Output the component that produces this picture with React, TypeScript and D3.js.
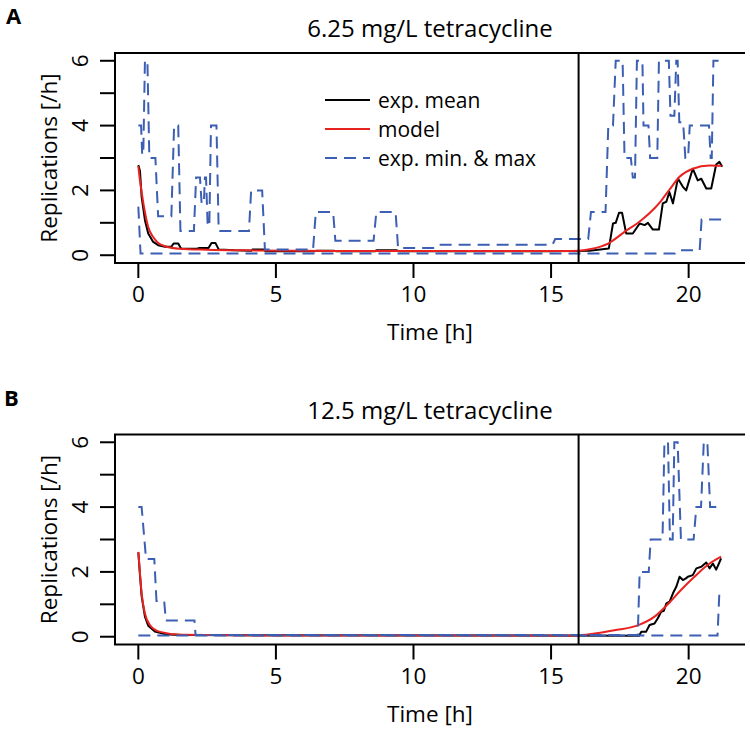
import React from 'react';
import * as d3 from 'd3';

type Pt = [number, number];

// ---------- data ----------
const tMin = 0;
const tMax = 21.2;
const yMin = 0;
const yMax = 6;
const xTicks = [0, 5, 10, 15, 20];
const yTicks = [0, 1, 2, 3, 4, 5, 6];
const yTickLabels = [0, 2, 4, 6];
const drugSwitchTime = 16;
const panelLetters = ['A', 'B'];
const panelTitles = ['6.25 mg/L tetracycline', '12.5 mg/L tetracycline'];
const legendLabels = ['exp. mean', 'model', 'exp. min. & max'];
const xLabel = 'Time [h]';
const yLabel = 'Replications [/h]';

const meanA: Pt[] = [
  [0, 2.78], [0.06, 2.6], [0.12, 1.8], [0.24, 1.08], [0.36, 0.67], [0.54, 0.41], [0.72, 0.31],
  [0.97, 0.26], [1.2, 0.26], [1.28, 0.36], [1.45, 0.36], [1.55, 0.21], [2.12, 0.2], [2.2, 0.22],
  [2.55, 0.22], [2.66, 0.38], [2.8, 0.38], [2.92, 0.18], [3.5, 0.15], [4.1, 0.14], [4.15, 0.18],
  [4.55, 0.18], [4.62, 0.12], [6.4, 0.12], [6.5, 0.14], [7.1, 0.14], [7.2, 0.12], [8.6, 0.12],
  [8.65, 0.15], [9.4, 0.15], [9.5, 0.12], [15.0, 0.12], [16.4, 0.14], [17.1, 0.21], [17.25, 0.98],
  [17.35, 1.0], [17.47, 1.31], [17.58, 1.31], [17.73, 0.67], [17.97, 0.67], [18.22, 0.98],
  [18.4, 0.93], [18.52, 1.0], [18.7, 0.79], [18.92, 0.79], [19.06, 1.6], [19.19, 1.65], [19.3, 1.95],
  [19.43, 1.6], [19.61, 2.37], [19.79, 2.11], [19.91, 2.0], [20.15, 2.67], [20.33, 2.31],
  [20.46, 2.36], [20.64, 2.06], [20.82, 2.06], [21.0, 2.8], [21.12, 2.88], [21.22, 2.73],
];

const modelA: Pt[] = [
  [0, 2.75], [0.06, 2.3], [0.12, 1.95], [0.24, 1.33], [0.36, 0.87], [0.54, 0.56], [0.72, 0.38],
  [1.0, 0.27], [1.5, 0.2], [2.5, 0.17], [4, 0.15], [8, 0.13], [15.5, 0.13], [16, 0.14], [16.5, 0.2],
  [17.07, 0.36], [17.67, 0.72], [18.28, 1.08], [18.76, 1.45], [19.0, 1.68], [19.3, 2.02],
  [19.67, 2.42], [20.15, 2.67], [20.76, 2.77], [21.2, 2.76],
];

const maxA: Pt[] = [
  [0, 4], [0.1, 4], [0.14, 3.1], [0.18, 3.1], [0.24, 6], [0.33, 6], [0.4, 3], [0.62, 3],
  [0.72, 1.2], [1.2, 1.2], [1.3, 4], [1.45, 4], [1.53, 0.75], [2.02, 0.75], [2.1, 2.4], [2.24, 2.4],
  [2.3, 1.6], [2.38, 1.6], [2.42, 2.4], [2.46, 2.4], [2.52, 0.9], [2.58, 0.9], [2.64, 4], [2.84, 4],
  [2.92, 0.75], [4.02, 0.75], [4.1, 2], [4.5, 2], [4.6, 0.18], [6.35, 0.18], [6.45, 1.33],
  [7.08, 1.33], [7.16, 0.45], [8.55, 0.45], [8.65, 1.33], [9.35, 1.33], [9.44, 0.22], [10.8, 0.22],
  [10.9, 0.32], [15.05, 0.32], [15.15, 0.5], [16.35, 0.5], [16.45, 1.33], [16.98, 1.33],
  [17.08, 4], [17.25, 4], [17.35, 6], [17.6, 6], [17.67, 3], [17.9, 3], [17.97, 2.4], [18.05, 2.4],
  [18.12, 6], [18.32, 6], [18.36, 4], [18.54, 4], [18.6, 3], [18.86, 3], [18.92, 6], [19.28, 6],
  [19.34, 4.3], [19.48, 4.3], [19.55, 6], [19.6, 6], [19.66, 4.1], [19.8, 4.1], [19.88, 3],
  [19.98, 3], [20.04, 4], [20.74, 4], [20.8, 3], [20.84, 3], [20.9, 6], [21.2, 6],
];

const minA: Pt[] = [
  [0, 1.5], [0.08, 0.05], [19.5, 0.05], [19.6, 0.15], [20.4, 0.15], [20.47, 1.1], [21.2, 1.1],
];

const meanB: Pt[] = [
  [0, 2.6], [0.06, 1.9], [0.12, 1.25], [0.24, 0.62], [0.36, 0.34], [0.6, 0.16], [0.97, 0.08],
  [1.5, 0.05], [18.2, 0.03], [18.28, 0.15], [18.45, 0.15], [18.58, 0.36], [18.76, 0.41],
  [18.88, 0.57], [19.0, 0.77], [19.1, 0.8], [19.19, 1.03], [19.31, 1.08], [19.43, 1.34],
  [19.55, 1.54], [19.67, 1.85], [19.79, 1.75], [19.9, 1.8], [19.97, 1.85], [20.15, 1.9],
  [20.28, 2.11], [20.46, 2.16], [20.64, 2.29], [20.76, 2.11], [20.88, 2.26], [21.0, 2.07],
  [21.1, 2.26], [21.18, 2.42],
];

const modelB: Pt[] = [
  [0, 2.62], [0.06, 1.95], [0.12, 1.34], [0.24, 0.72], [0.42, 0.36], [0.79, 0.15], [1.6, 0.06],
  [5, 0.04], [15.86, 0.04], [16.58, 0.1], [17.3, 0.2], [18.15, 0.35], [18.76, 0.62], [19.24, 1.0],
  [19.73, 1.45], [20.21, 1.85], [20.7, 2.22], [21.18, 2.47],
];

const maxB: Pt[] = [
  [0, 4], [0.12, 4], [0.28, 2.4], [0.58, 2.4], [0.66, 1.1], [0.94, 1.1], [1.0, 0.5], [2.04, 0.5],
  [2.08, 0.05], [18.15, 0.05], [18.22, 2.0], [18.55, 2.0], [18.62, 3.0], [19.05, 3.0], [19.12, 6],
  [19.25, 6], [19.32, 3], [19.42, 3], [19.48, 6], [19.6, 6], [19.72, 3], [20.18, 3], [20.28, 4],
  [20.45, 4], [20.55, 6], [20.68, 6], [20.78, 4], [21.2, 4],
];

const minB: Pt[] = [[0, 0.04], [21.05, 0.04], [21.12, 1.45]];

const panelSeries = [
  { mean: meanA, model: modelA, max: maxA, min: minA },
  { mean: meanB, model: modelB, max: maxB, min: minB },
];

// ---------- styling / layout ----------
const W = 750;
const H = 729;
const FONT = '"Open Sans", Lato, sans-serif';
const BLUE = '#3d5fb3';
const RED = '#e8231f';
const DASH = '12,7';
const plotLeft = 115;
const plotRight = 745;
const panelTops = [53, 434.5];
const plotHeight = 210;
const fsAxis = 22.5;
const fsTitle = 24;
const fsLegend = 21;

const pad = 0.04 * (tMax - tMin);
const x = d3.scaleLinear().domain([tMin - pad, tMax + pad]).range([plotLeft, plotRight]);

function Panel({ idx }: { idx: number }) {
  const top = panelTops[idx];
  const bottom = top + plotHeight;
  const ypad = 0.04 * (yMax - yMin);
  const y = d3.scaleLinear().domain([yMin - ypad, yMax + ypad]).range([bottom, top]);
  const s = panelSeries[idx];
  const lin = d3.line<Pt>().x(d => x(d[0])).y(d => y(d[1]));
  const smooth = d3.line<Pt>().x(d => x(d[0])).y(d => y(d[1])).curve(d3.curveMonotoneX);
  const midX = (plotLeft + plotRight) / 2;
  const midY = (top + bottom) / 2;
  return (
    <g>
      <text x={idx === 0 ? 6 : 4} y={top - 29} fontSize={22} fontWeight="bold" fontFamily={FONT}>
        {panelLetters[idx]}
      </text>
      <text x={midX} y={top - 16} fontSize={fsTitle} textAnchor="middle" fontFamily={FONT}>
        {panelTitles[idx]}
      </text>
      {/* data */}
      <path d={lin(s.mean) || ''} fill="none" stroke="#000" strokeWidth={2} strokeLinejoin="round" />
      <path d={smooth(s.model) || ''} fill="none" stroke={RED} strokeWidth={2} />
      <path d={lin(s.max) || ''} fill="none" stroke={BLUE} strokeWidth={2} strokeDasharray={DASH} />
      <path d={lin(s.min) || ''} fill="none" stroke={BLUE} strokeWidth={2} strokeDasharray={DASH} />
      {/* switch line */}
      <line x1={x(drugSwitchTime)} x2={x(drugSwitchTime)} y1={top} y2={bottom} stroke="#000" strokeWidth={2} />
      {/* box (left, top, bottom) */}
      <path d={`M${plotRight},${top}H${plotLeft}V${bottom}H${plotRight}`} fill="none" stroke="#000" strokeWidth={2} />
      {/* y axis */}
      {yTicks.map(v => (
        <line key={'yt' + v} x1={plotLeft} x2={plotLeft - 15} y1={y(v)} y2={y(v)} stroke="#000" strokeWidth={2} />
      ))}
      {yTickLabels.map(v => (
        <text key={'yl' + v} transform={`translate(${88},${y(v)}) rotate(-90)`} textAnchor="middle" fontSize={fsAxis} fontFamily={FONT}>
          {v}
        </text>
      ))}
      <text transform={`translate(${57},${midY}) rotate(-90)`} textAnchor="middle" fontSize={fsAxis} fontFamily={FONT}>
        {yLabel}
      </text>
      {/* x axis */}
      {xTicks.map(v => (
        <line key={'xt' + v} x1={x(v)} x2={x(v)} y1={bottom} y2={bottom + 15} stroke="#000" strokeWidth={2} />
      ))}
      {xTicks.map(v => (
        <text key={'xl' + v} x={x(v)} y={bottom + 39} textAnchor="middle" fontSize={fsAxis} fontFamily={FONT}>
          {v}
        </text>
      ))}
      <text x={midX} y={bottom + 77} textAnchor="middle" fontSize={fsAxis} fontFamily={FONT}>
        {xLabel}
      </text>
      {idx === 0 && (
        <g>
          {legendLabels.map((lab, i) => {
            const ly = top + 47 + i * 29;
            const color = i === 0 ? '#000' : i === 1 ? RED : BLUE;
            return (
              <g key={lab}>
                <line x1={325} x2={370} y1={ly} y2={ly} stroke={color} strokeWidth={2} strokeDasharray={i === 2 ? DASH : undefined} />
                <text x={378} y={ly} dominantBaseline="central" fontSize={fsLegend} fontFamily={FONT}>
                  {lab}
                </text>
              </g>
            );
          })}
        </g>
      )}
    </g>
  );
}

export default function App() {
  return (
    <svg width={W} height={H} viewBox={`0 0 ${W} ${H}`} style={{ position: 'absolute', left: 0, top: 0, background: '#fff' }}>
      <rect x={0} y={0} width={W} height={H} fill="#fff" />
      <Panel idx={0} />
      <Panel idx={1} />
    </svg>
  );
}
